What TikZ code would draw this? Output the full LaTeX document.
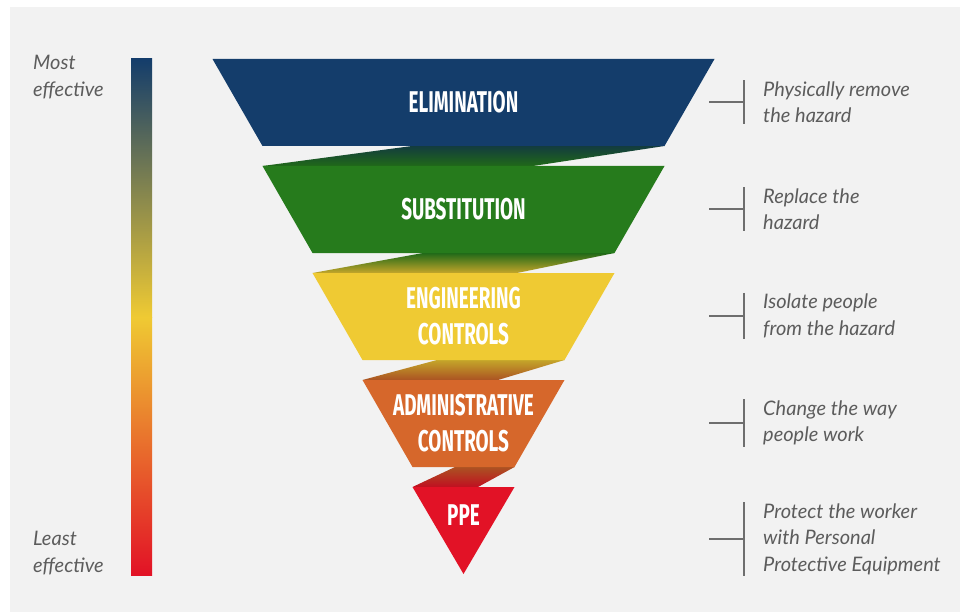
\documentclass[tikz,border=0pt]{standalone}
\usepackage{fontspec}
\setmainfont{Lato}
\newfontfamily\tierfont[FakeStretch=0.63]{Fira Sans}
\usepackage{tikz}
\usetikzlibrary{calc}
\definecolor{elimblue}{RGB}{20, 61, 107}
\definecolor{subgreen}{RGB}{38, 123, 28}
\definecolor{engyellow}{RGB}{239, 202, 51}
\definecolor{admorange}{RGB}{214, 103, 43}
\definecolor{ppered}{RGB}{226, 18, 38}
\definecolor{panelgray}{RGB}{242, 242, 242}
\definecolor{descgray}{RGB}{92, 92, 92}
\definecolor{brkgray}{RGB}{110, 110, 110}
\tikzset{
  tierlabel/.style={font=\tierfont\bfseries\fontsize{30}{36}\selectfont, text=white, align=center, inner sep=0pt},
  desclabel/.style={font=\itshape\fontsize{20}{26.5}\selectfont, text=descgray, align=left, anchor=west, inner sep=1pt},
  sidelabel/.style={desclabel},
  brk/.style={draw=brkgray, line width=1.6pt},
}

\begin{document}
\begin{tikzpicture}[x=1pt, y=-1pt]
  \useasboundingbox (0,0) rectangle (960,612);
  \fill[panelgray] (10,7) rectangle (960,612);
  % effectiveness bar
  \shade[top color=elimblue, middle color=subgreen, bottom color=engyellow] (131,59) rectangle (152,317);
  \shade[top color=engyellow, middle color=admorange, bottom color=ppered] (131,317) rectangle (152,575);
  \node[sidelabel] (most) at (32,77) {Most\\effective};
  \node[sidelabel] (least) at (32,553) {Least\\effective};
  % twists between tiers
  \shade[top color=elimblue!70!subgreen!75!black, bottom color=subgreen!85!black] (262.5,166) -- (412,146) -- (664.5,146) -- (533,166) -- cycle;
  \shade[top color=subgreen!85!black, bottom color=engyellow!82!black] (312.5,273) -- (423,253) -- (614.5,253) -- (517,273) -- cycle;
  \shade[top color=engyellow!82!black, bottom color=admorange!80!black] (362.5,380) -- (437,360) -- (564.5,360) -- (498,380) -- cycle;
  \shade[top color=admorange!80!black, bottom color=ppered!85!black] (412.5,487) -- (455,467) -- (514.5,467) -- (478,487) -- cycle;
  % tiers
  \fill[elimblue] (212.5,59) -- (714.5,59) -- (664.5,146) -- (262.5,146) -- cycle;
  \fill[subgreen] (262.5,166) -- (664.5,166) -- (614.5,253) -- (312.5,253) -- cycle;
  \fill[engyellow] (312.5,273) -- (614.5,273) -- (564.5,360) -- (362.5,360) -- cycle;
  \fill[admorange] (362.5,380) -- (564.5,380) -- (514.5,467) -- (412.5,467) -- cycle;
  \fill[ppered] (412.5,487) -- (514.5,487) -- (463.5,574) -- cycle;
  \node[tierlabel] (elim) at (463.5,102) {ELIMINATION};
  \node[tierlabel] (subst) at (463.5,209) {SUBSTITUTION};
  \node[tierlabel] (eng) at (463.5,316) {ENGINEERING\\CONTROLS};
  \node[tierlabel] (adm) at (463.5,423) {ADMINISTRATIVE\\CONTROLS};
  \node[tierlabel] (ppe) at (463.5,515) {PPE};
  % descriptions
  \node[desclabel] (d1) at (762,102) {Physically remove\\the hazard};
  \node[desclabel] (d2) at (762,209) {Replace the\\hazard};
  \node[desclabel] (d3) at (762,316) {Isolate people\\from the hazard};
  \node[desclabel] (d4) at (762,423) {Change the way\\people work};
  \node[desclabel] (d5) at (762,539) {Protect the worker\\with Personal\\Protective Equipment};
  \draw[brk] ([xshift=-53pt]d1.west) -- ([xshift=-18pt]d1.west);
  \draw[brk] ([xshift=-18pt]d1.north west) -- ([xshift=-18pt]d1.south west);
  \draw[brk] ([xshift=-53pt]d2.west) -- ([xshift=-18pt]d2.west);
  \draw[brk] ([xshift=-18pt]d2.north west) -- ([xshift=-18pt]d2.south west);
  \draw[brk] ([xshift=-53pt]d3.west) -- ([xshift=-18pt]d3.west);
  \draw[brk] ([xshift=-18pt]d3.north west) -- ([xshift=-18pt]d3.south west);
  \draw[brk] ([xshift=-53pt]d4.west) -- ([xshift=-18pt]d4.west);
  \draw[brk] ([xshift=-18pt]d4.north west) -- ([xshift=-18pt]d4.south west);
  \draw[brk] ([xshift=-53pt]d5.west) -- ([xshift=-18pt]d5.west);
  \draw[brk] ([xshift=-18pt]d5.north west) -- ([xshift=-18pt]d5.south west);
\end{tikzpicture}
\end{document}
